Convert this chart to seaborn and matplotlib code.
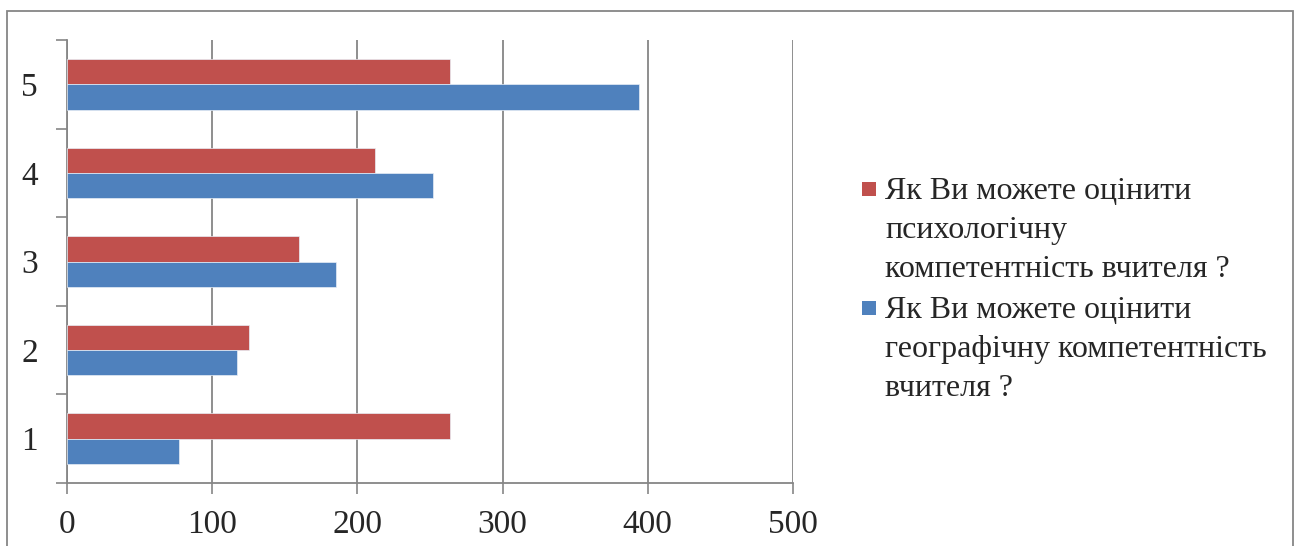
import pandas as pd
import seaborn as sns
import matplotlib.pyplot as plt
from matplotlib.patches import Rectangle

# Data
categories = ['5', '4', '3', '2', '1']
psych_values = [264, 212, 160, 125, 264]
geo_values = [394, 252, 185, 117, 77]
series_names = ['Як Ви можете оцінити\nпсихологічну\nкомпетентність вчителя ?',
                'Як Ви можете оцінити\nгеографічну компетентність\nвчителя ?']
series_colors = ['#C0504D', '#4F81BD']
x_ticks = [0, 100, 200, 300, 400, 500]

df = pd.DataFrame({
    'category': categories * 2,
    'value': psych_values + geo_values,
    'series': [series_names[0]] * len(categories) + [series_names[1]] * len(categories),
})

sns.set_style('white')
plt.rcParams['font.family'] = ['Liberation Serif', 'DejaVu Serif']

grid_color = '#868686'
fig = plt.figure(figsize=(12.99, 5.46), dpi=100)
ax = fig.add_axes([67 / 1299, 1 - 483 / 546, (793 - 67) / 1299, (483 - 40) / 546])

sns.barplot(data=df, y='category', x='value', hue='series', order=categories,
            hue_order=series_names, palette=series_colors, saturation=1, orient='h',
            width=0.572, gap=0, edgecolor='#e8eef6', linewidth=0.5,
            legend=False, ax=ax, zorder=3)

ax.set_xlim(0, 500)
ax.set_ylim(len(categories) - 0.5, -0.5)
ax.set_xticks(x_ticks)
ax.set_xticklabels([str(t) for t in x_ticks], fontsize=24)
ax.set_yticks([i - 0.5 for i in range(len(categories) + 1)])
ax.set_yticklabels([''] * (len(categories) + 1))
ax.set_yticks(range(len(categories)), minor=True)
ax.set_yticklabels(categories, minor=True, fontsize=24)
ax.tick_params(axis='y', which='major', length=8, width=1.2, color=grid_color, left=True)
ax.tick_params(axis='y', which='minor', length=0, pad=21)
ax.tick_params(axis='x', length=8, width=1.2, color=grid_color, bottom=True, pad=11)
ax.set_xlabel('')
ax.set_ylabel('')

ax.grid(axis='x', color=grid_color, linewidth=1.3, zorder=0)
ax.set_axisbelow(True)
for side in ['top', 'right']:
    ax.spines[side].set_visible(False)
for side in ['left', 'bottom']:
    ax.spines[side].set_color(grid_color)
    ax.spines[side].set_linewidth(1.3)

# Legend (square marker aligned with first line of each label)
legend_tops = [177, 296]
for name, color, top in zip(series_names, series_colors, legend_tops):
    fig.patches.append(Rectangle((862 / 1299, 1 - (top + 19) / 546), 14 / 1299, 14 / 546,
                                 transform=fig.transFigure, facecolor=color,
                                 edgecolor='none'))
    fig.text(885 / 1299, 1 - top / 546, name, fontsize=23, va='top', ha='left',
             linespacing=1.46)

# Outer chart border
fig.patches.append(Rectangle((7 / 1299, -0.05), (1293 - 7) / 1299, 1.05 - 11 / 546,
                             transform=fig.transFigure, facecolor='none',
                             edgecolor=grid_color, linewidth=1.3))

fig.savefig('out.png', dpi=100)
